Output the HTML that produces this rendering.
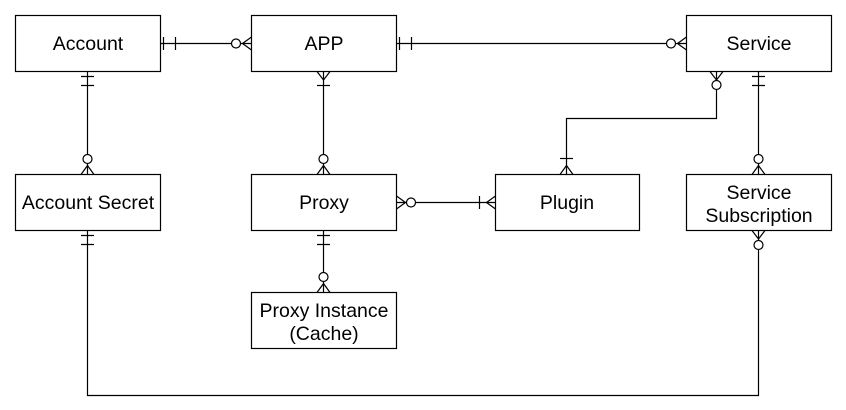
<!DOCTYPE html>
<html><head><meta charset="utf-8"><style>
html,body{margin:0;padding:0;background:#fff}
svg{display:block}
text{font-family:"Liberation Sans",Arial,sans-serif;font-size:19.5px;fill:#000;text-anchor:middle}
</style></head><body>
<svg width="846" height="410" viewBox="0 0 846 410" xmlns="http://www.w3.org/2000/svg">
<g fill="#fff" stroke="#000" stroke-width="1.2">
<rect x="15.5" y="15.5" width="145" height="56"/>
<rect x="251.5" y="15.5" width="145" height="56"/>
<rect x="686.5" y="15.5" width="145" height="56"/>
<rect x="15.5" y="174.5" width="145" height="56"/>
<rect x="251.5" y="174.5" width="145" height="56"/>
<rect x="495.5" y="174.5" width="144" height="56"/>
<rect x="686.5" y="174.5" width="145" height="56"/>
<rect x="251.5" y="292.5" width="145" height="56"/>
</g>
<g fill="none" stroke="#000" stroke-width="1.2">
<path d="M160.5 43.5H251.5"/>
<path d="M163.5 37V50M175.5 37V50"/>
<path d="M242.5 43.5L251.5 37M242.5 43.5L251.5 50"/>
<circle cx="236" cy="43.5" r="4.5" fill="#fff"/>
<path d="M396.5 43.5H686.5"/>
<path d="M399.5 37V50M411.5 37V50"/>
<path d="M677.5 43.5L686.5 37M677.5 43.5L686.5 50"/>
<circle cx="671" cy="43.5" r="4.5" fill="#fff"/>
<path d="M87.5 71.5V174.5"/>
<path d="M81 76.5H94M81 85.5H94"/>
<path d="M87.5 165.5L81 174.5M87.5 165.5L94 174.5"/>
<circle cx="87.5" cy="159" r="4.5" fill="#fff"/>
<path d="M323.5 71.5V174.5"/>
<path d="M323.5 80L317 71.5M323.5 80L330 71.5"/>
<path d="M317 85.5H330"/>
<path d="M323.5 165.5L317 174.5M323.5 165.5L330 174.5"/>
<circle cx="323.5" cy="159" r="4.5" fill="#fff"/>
<path d="M396.5 202.5H495.5"/>
<path d="M405.5 202.5L396.5 196M405.5 202.5L396.5 209"/>
<circle cx="411" cy="202.5" r="4.5" fill="#fff"/>
<path d="M479.5 196V209"/>
<path d="M486.5 202.5L495.5 196M486.5 202.5L495.5 209"/>
<path d="M716.5 71.5V118.5H566.5V174.5"/>
<path d="M716.5 80L710 71.5M716.5 80L723 71.5"/>
<circle cx="716.5" cy="85" r="4.5" fill="#fff"/>
<path d="M560 158.5H573"/>
<path d="M566.5 165.5L560 174.5M566.5 165.5L573 174.5"/>
<path d="M758.5 71.5V174.5"/>
<path d="M752 76.5H765M752 85.5H765"/>
<path d="M758.5 165.5L752 174.5M758.5 165.5L765 174.5"/>
<circle cx="758.5" cy="159" r="4.5" fill="#fff"/>
<path d="M323.5 230.5V292.5"/>
<path d="M317 235.5H330M317 244.5H330"/>
<path d="M323.5 283.5L317 292.5M323.5 283.5L330 292.5"/>
<circle cx="323.5" cy="277" r="4.5" fill="#fff"/>
<path d="M87.5 230.5V395.5H758.5V230.5"/>
<path d="M81 235.5H94M81 244.5H94"/>
<path d="M758.5 239L752 230.5M758.5 239L765 230.5"/>
<circle cx="758.5" cy="245" r="4.5" fill="#fff"/>
</g>
<text x="88" y="50">Account</text>
<text x="324" y="50">APP</text>
<text x="759" y="50">Service</text>
<text x="88" y="209">Account Secret</text>
<text x="324" y="209">Proxy</text>
<text x="567" y="209">Plugin</text>
<text x="759" y="199">Service</text>
<text x="759" y="222">Subscription</text>
<text x="324" y="317">Proxy Instance</text>
<text x="324" y="340">(Cache)</text>
</svg>
</body></html>
